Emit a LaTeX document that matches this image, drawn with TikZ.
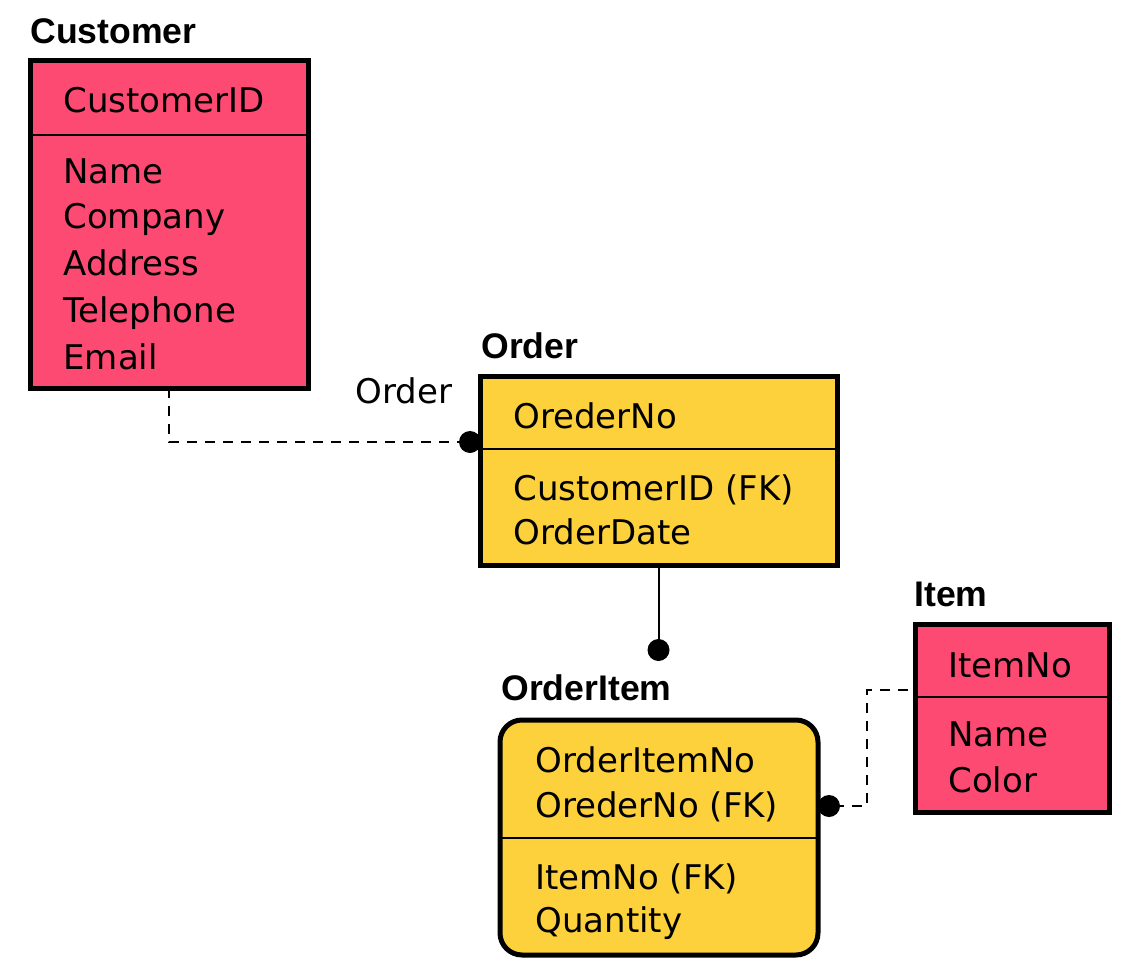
\documentclass[tikz,border=0pt]{standalone}
\usepackage{fontspec}
\newfontfamily\attrfont{DejaVu Sans}
\newfontfamily\titlefont{Liberation Sans}
\definecolor{entpink}{RGB}{252,74,114}
\definecolor{entyellow}{RGB}{253,209,59}
\begin{document}
\begin{tikzpicture}[x=0.5pt,y=-0.5pt,
  entbox/.style={draw=black,line width=2.5pt,inner sep=0pt,outer sep=0pt},
  divider/.style={draw=black,line width=1.3pt},
  attr/.style={anchor=base west,inner sep=0pt,font=\attrfont\fontsize{17}{17}\selectfont},
  enttitle/.style={anchor=base west,inner sep=0pt,font=\titlefont\bfseries\fontsize{17.8}{17.8}\selectfont},
  reldot/.style={circle,fill=black,draw=none,minimum size=11pt,inner sep=0pt},
  relline/.style={draw=black,line width=1pt},
  reldash/.style={draw=black,line width=1pt,dash pattern=on 5pt off 4pt}]
\useasboundingbox (0,0) rectangle (1121,964);
\fill[white] (0,0) rectangle (1121,964);

% ---------- Customer ----------
\node[entbox,fill=entpink,minimum width=139pt,minimum height=164pt] (cust) at (169,224) {};
\draw[divider] (cust.west |- 0,135) -- (cust.east |- 0,135);
\node[enttitle] (custT) at (30,43) {Customer};
\node[attr] (c1) at (63,112) {CustomerID};
\node[attr] (c2) at (63,183) {Name};
\node[attr] (c3) at (63,228) {Company};
\node[attr] (c4) at (63,275) {Address};
\node[attr] (c5) at (63,322) {Telephone};
\node[attr] (c6) at (63,369) {Email};

% ---------- Order ----------
\node[entbox,fill=entyellow,minimum width=178.5pt,minimum height=94.5pt] (ord) at (658.5,470.5) {};
\draw[divider] (ord.west |- 0,449) -- (ord.east |- 0,449);
\node[enttitle] (ordT) at (481,358) {Order};
\node[attr] (o1) at (513,428) {OrederNo};
\node[attr] (o2) at (513,500) {CustomerID (FK)};
\node[attr] (o3) at (513,544) {OrderDate};

% ---------- OrderItem ----------
\node[entbox,fill=entyellow,rounded corners=11pt,minimum width=159pt,minimum height=117.5pt] (oi) at (659,837.5) {};
\draw[divider] (oi.west |- 0,838) -- (oi.east |- 0,838);
\node[enttitle] (oiT) at (501,700) {OrderItem};
\node[attr] (i1) at (535,772) {OrderItemNo};
\node[attr] (i2) at (535,817) {OrederNo (FK)};
\node[attr] (i3) at (535,889) {ItemNo (FK)};
\node[attr] (i4) at (535,932) {Quantity};

% ---------- Item ----------
\node[entbox,fill=entpink,minimum width=97pt,minimum height=94pt] (item) at (1012,718) {};
\draw[divider] (item.west |- 0,697) -- (item.east |- 0,697);
\node[enttitle] (itemT) at (914,606) {Item};
\node[attr] (t1) at (948,677) {ItemNo};
\node[attr] (t2) at (948,746) {Name};
\node[attr] (t3) at (948,792) {Color};

% ---------- Relationships ----------
% Customer -- Order
\node[reldot] (odot) at (470,442) {};
\draw[reldash] (cust.south) |- (odot.center);
\node[attr] (rel1) at (355,403) {Order};
% re-draw order border over dot
\draw[line width=2.5pt] (ord.north west) -- (ord.south west);

% Order -- OrderItem
\node[reldot] (oidot) at (658.5,650) {};
\draw[relline] (ord.south) -- (oidot.center);

% OrderItem -- Item
\node[reldot] (idot) at (829,806) {};
\coordinate (bend1) at (867,806);
\coordinate (bend2) at (867,690);
\draw[reldash,dash phase=3pt] (idot.east) -- (bend1) -- (bend2) -- (item.west |- bend2);
\end{tikzpicture}
\end{document}
